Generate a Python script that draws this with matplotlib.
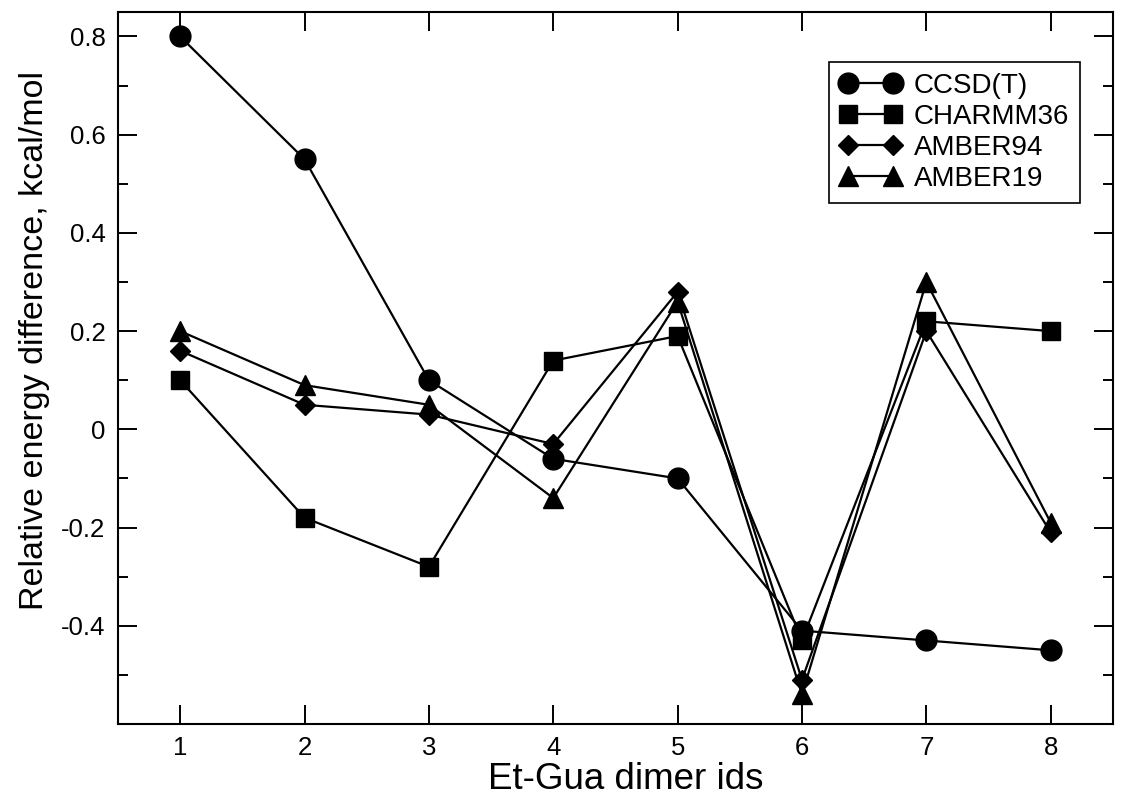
import numpy as np
import matplotlib
matplotlib.use("Agg")
import matplotlib.pyplot as plt
from matplotlib.ticker import MultipleLocator

plt.rcParams['font.family'] = ['Liberation Sans', 'DejaVu Sans']

dimer_ids = [1, 2, 3, 4, 5, 6, 7, 8]
ccsdt = [0.80, 0.55, 0.10, -0.06, -0.10, -0.41, -0.43, -0.45]
charmm36 = [0.10, -0.18, -0.28, 0.14, 0.19, -0.43, 0.22, 0.20]
amber94 = [0.16, 0.05, 0.03, -0.03, 0.28, -0.51, 0.20, -0.21]
amber19 = [0.20, 0.09, 0.05, -0.14, 0.26, -0.54, 0.30, -0.19]

fig = plt.figure(figsize=(11.28, 7.96), dpi=100)
ax = fig.add_axes([0.1046, 0.0905, 0.882, 0.8945])

series = [
    (ccsdt, 'o', 15, 'CCSD(T)'),
    (charmm36, 's', 13, 'CHARMM36'),
    (amber94, 'D', 10.5, 'AMBER94'),
    (amber19, '^', 15, 'AMBER19'),
]
for vals, m, ms, lab in series:
    ax.plot(dimer_ids, vals, color='black', lw=1.6, marker=m, ms=ms,
            markerfacecolor='black', markeredgecolor='black', label=lab)

ax.set_xlim(0.5, 8.5)
ax.set_ylim(-0.6, 0.85)
ax.xaxis.set_major_locator(MultipleLocator(1))
ax.yaxis.set_minor_locator(MultipleLocator(0.1))
ax.set_yticks([-0.4, -0.2, 0, 0.2, 0.4, 0.6, 0.8])
ax.set_yticklabels(['-0.4', '-0.2', '0', '0.2', '0.4', '0.6', '0.8'])

ax.tick_params(which='both', direction='in', top=True, right=True,
               labelsize=18.5, width=1.4, pad=9)
ax.tick_params(which='major', length=14)
ax.tick_params(which='minor', length=7)
for s in ax.spines.values():
    s.set_linewidth(1.5)

ax.set_xlabel('Et-Gua dimer ids', fontsize=26.5, labelpad=1)
ax.set_ylabel('Relative energy difference, kcal/mol', fontsize=24.5, labelpad=8)
ax.xaxis.label.set_x(0.51)
ax.yaxis.label.set_y(0.538)

leg = ax.legend(loc='upper right', bbox_to_anchor=(0.967, 0.930), fontsize=20,
                fancybox=False, edgecolor='black', framealpha=1, numpoints=2,
                handlelength=2.2, handletextpad=0.45, labelspacing=0.18,
                borderpad=0.4, borderaxespad=0)
leg.get_frame().set_linewidth(1.2)

fig.savefig('out.png', dpi=100)
